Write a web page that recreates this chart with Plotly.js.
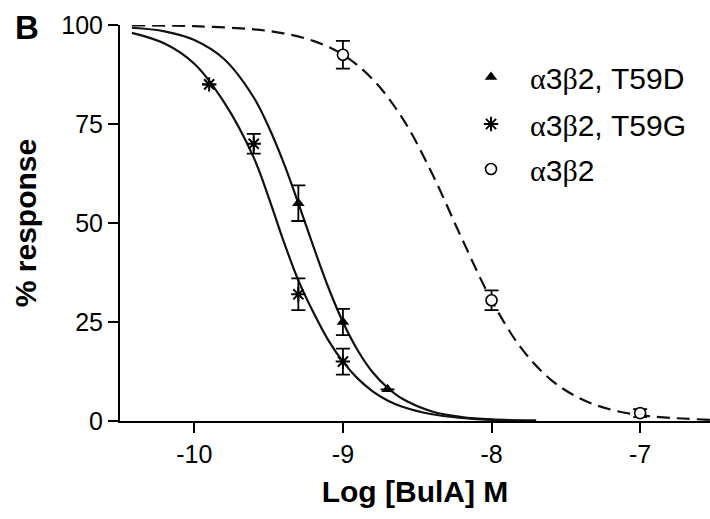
<!DOCTYPE html>
<html>
<head>
<meta charset="utf-8">
<script src="https://cdn.plot.ly/plotly-3.0.1.min.js"></script>
<style>html,body{margin:0;padding:0;background:#fff;}#chart{width:710px;height:519px;}</style>
</head>
<body>
<div id="chart"></div>
<script>
// ---- data ----
const seriesNames = ['α3β2, T59D', 'α3β2, T59G', 'α3β2'];

// measured points (log M, % response, SEM; null = bar hidden by the marker)
const xT59D = [-9.3, -9.0, -8.7];
const yT59D = [55, 25, 8];
const eT59D = [4.5, 3.3, null];

const xT59G = [-9.9, -9.6, -9.3, -9.0];
const yT59G = [85, 70, 32, 15];
const eT59G = [null, 2.5, 4, 3.3];

const xA3B2 = [-9.0, -8.0, -7.0];
const yA3B2 = [92.5, 30.5, 2];
const eA3B2 = [3.5, 2.5, 1];

// fitted curves, values
const curveXSolid = [-10.42, -10.2, -10.0, -9.8, -9.6, -9.5, -9.4, -9.3, -9.2, -9.1, -9.0, -8.9, -8.8, -8.7, -8.6, -8.4, -8.2, -8.0, -7.7];
const curveT59D   = [99.3, 98.4, 96.2, 91.4, 81.7, 74.3, 65.3, 55.0, 44.2, 33.9, 25.0, 17.8, 12.3, 8.4, 5.6, 2.4, 1.0, 0.4, 0.1];
const curveT59G   = [98.0, 95.3, 90.2, 80.5, 66.5, 56.5, 45.5, 35.5, 27.5, 20.5, 15.0, 10.7, 7.5, 5.2, 3.6, 1.7, 0.8, 0.3, 0.1];
const curveXDash  = [-10.42, -10.0, -9.6, -9.4, -9.2, -9.0, -8.8, -8.6, -8.4, -8.2, -8.0, -7.8, -7.6, -7.4, -7.2, -7.0, -6.8, -6.53];
const curveA3B2   = [99.9, 99.7, 98.9, 97.9, 96.0, 92.5, 86.3, 76.5, 62.5, 46.1, 30.5, 18.4, 10.4, 5.6, 2.9, 1.5, 0.8, 0.3];

// axis ticks
const xTickVals = [-10, -9, -8, -7];
const xTickText = ['-10', '-9', '-8', '-7'];
const yTickVals = [0, 25, 50, 75, 100];
const yTickText = ['0', '25', '50', '75', '100'];

// ---- drawing ----
const FONT = 'Liberation Sans, Arial, Helvetica, sans-serif';
function greekName(s) {
  return s.replace(/([αβ])/g, '<span style="font-family:Liberation Serif, Times New Roman, serif">$1</span>');
}
function errBar(arr) {
  return {type: 'data', array: arr, visible: true, color: '#000', thickness: 1.8, width: 7};
}
const lineStyle = {color: '#111', width: 2.2};

const traces = [
  {x: curveXSolid, y: curveT59D, mode: 'lines', line: Object.assign({shape: 'spline'}, lineStyle), showlegend: false, hoverinfo: 'skip'},
  {x: curveXSolid, y: curveT59G, mode: 'lines', line: Object.assign({shape: 'spline'}, lineStyle), showlegend: false, hoverinfo: 'skip'},
  {x: curveXDash, y: curveA3B2, mode: 'lines', line: Object.assign({shape: 'spline', dash: '13px,7px'}, lineStyle), showlegend: false, hoverinfo: 'skip'},
  {x: xT59D, y: yT59D, mode: 'markers', name: greekName(seriesNames[0]), legend: 'legend',
   marker: {symbol: 'triangle-up', size: 11, color: '#000'}, error_y: errBar(eT59D)},
  {x: xT59G, y: yT59G, mode: 'markers', name: greekName(seriesNames[1]), legend: 'legend2',
   marker: {symbol: 'asterisk-open', size: 12, color: '#000', line: {color: '#000', width: 2}}, error_y: errBar(eT59G)},
  {x: xA3B2, y: yA3B2, mode: 'markers', name: greekName(seriesNames[2]), legend: 'legend3',
   marker: {symbol: 'circle', size: 11, color: '#fff', line: {color: '#000', width: 1.6}}, error_y: errBar(eA3B2)}
];

function legendAt(ypx) {
  return {
    x: (452 - 120) / 590, xanchor: 'left',
    y: (421 - ypx) / 396, yanchor: 'middle',
    bgcolor: 'rgba(0,0,0,0)', borderwidth: 0,
    itemwidth: 68,
    font: {family: FONT, size: 30, color: '#000'}
  };
}

const layout = {
  width: 710, height: 519,
  margin: {l: 120, r: 0, t: 25, b: 98, pad: 0},
  paper_bgcolor: '#fff', plot_bgcolor: '#fff',
  font: {family: FONT, color: '#000'},
  showlegend: true,
  legend: legendAt(77),
  legend2: legendAt(124),
  legend3: legendAt(169),
  xaxis: {
    range: [-10.5, -6.53], showgrid: false, zeroline: false,
    showline: true, linecolor: '#000', linewidth: 2,
    ticks: 'outside', ticklen: 10, tickwidth: 2, tickcolor: '#000',
    tickvals: xTickVals, ticktext: xTickText,
    tickfont: {family: FONT, size: 25, color: '#000'},
    title: {text: 'Log [BulA] M', font: {family: FONT, size: 30, color: '#000', weight: 'bold'}, standoff: 14}
  },
  yaxis: {
    range: [0, 100], showgrid: false, zeroline: false,
    showline: true, linecolor: '#000', linewidth: 2,
    ticks: 'outside', ticklen: 10, tickwidth: 2, tickcolor: '#000',
    tickvals: yTickVals, ticktext: yTickText,
    tickfont: {family: FONT, size: 25, color: '#000'},
    title: {text: '% response', font: {family: FONT, size: 30, color: '#000', weight: 'bold'}, standoff: 16}
  },
  annotations: [{
    text: 'B', xref: 'paper', yref: 'paper',
    x: (27 - 120) / 590, y: (421 - 27) / 396, xanchor: 'center', yanchor: 'middle',
    showarrow: false, font: {family: FONT, size: 33, color: '#000', weight: 'bold'}
  }]
};

Plotly.newPlot('chart', traces, layout, {displayModeBar: false, staticPlot: true});
</script>
</body>
</html>
